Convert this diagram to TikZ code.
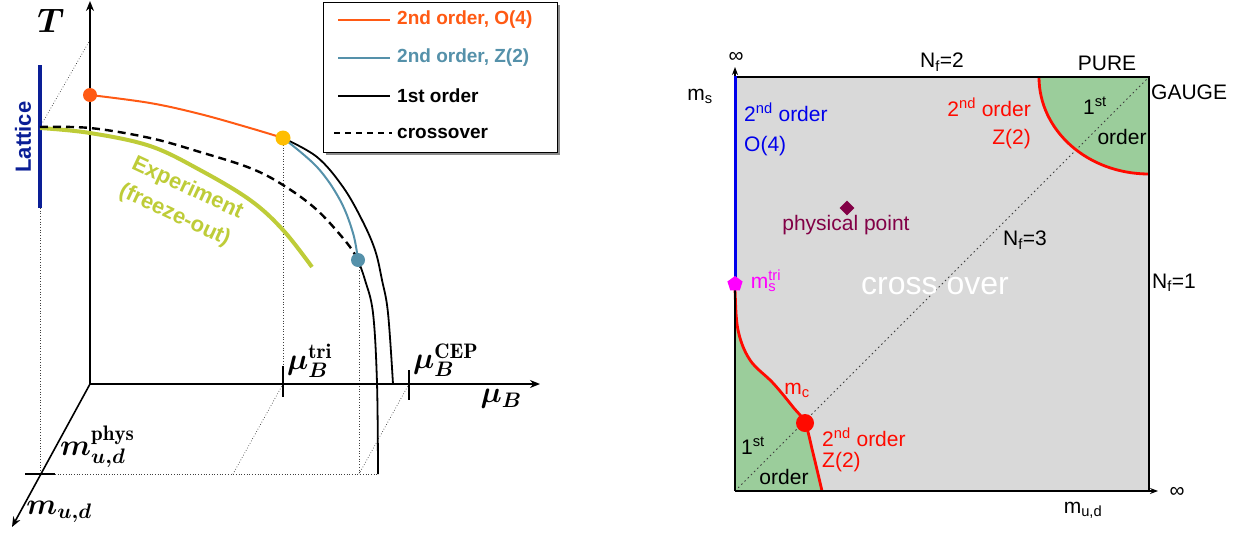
\RequirePackage{fix-cm}
\documentclass[tikz,border=0pt]{standalone}
\usepackage{fontspec}
\usepackage{amsmath,bm}
\newfontfamily\arial{Liberation Sans}
\usetikzlibrary{arrows.meta,shapes.geometric}
\definecolor{ordfour}{RGB}{255,90,20}
\definecolor{zedtwo}{RGB}{85,145,170}
\definecolor{expcol}{RGB}{190,204,56}
\definecolor{latblue}{RGB}{10,30,150}
\definecolor{yel}{RGB}{255,190,0}
\definecolor{boxgray}{RGB}{217,217,217}
\definecolor{grn}{RGB}{155,205,155}
\definecolor{rd}{RGB}{255,10,0}
\definecolor{bl}{RGB}{0,0,235}
\definecolor{maroon}{RGB}{130,0,70}
\definecolor{mag}{RGB}{255,0,255}
\tikzset{
  axis/.style={line width=1.6pt,-{Stealth[length=10pt,width=8pt]}},
  raxis/.style={line width=1.2pt,-{Stealth[length=8pt,width=6pt]}},
  dotline/.style={dotted,line width=0.7pt,black!75},
  tick/.style={line width=1.4pt},
  legtxt/.style={anchor=west,font=\arial\bfseries\fontsize{19}{19}\selectfont,inner sep=0pt},
  mathlbl/.style={font=\fontsize{30}{30}\selectfont,inner sep=0pt},
  rlbl/.style={font=\arial\fontsize{21}{21}\selectfont,inner sep=0pt},
  crit/.style={circle,inner sep=0pt,minimum size=14pt},
}
\begin{document}
\begin{tikzpicture}[x=1pt,y=-1pt]
\useasboundingbox (0,0) rectangle (1247,533);
% ================= LEFT PANEL =================
% dotted guide lines
\draw[dotline] (40,127) -- (90,40);
\draw[dotline] (40,208) -- (40,474);
\draw[dotline] (55,474) -- (378,474);
\draw[dotline] (283,145) -- (283,384);
\draw[dotline] (283,384) -- (233,474);
\draw[dotline] (359,267) -- (359,474);
\draw[dotline] (409,384) -- (359,474);
% axes
\coordinate (O) at (90,384);
\coordinate (Ttop) at (90,1);
\coordinate (mutip) at (540,384);
\coordinate (mudtip) at (12,527);
\draw[axis] (O) -- (Ttop);
\draw[axis] (O) -- (mutip);
\draw[axis] (O) -- (mudtip);
% ticks
\draw[tick] (25,474) -- (55,474);
\draw[tick] (283,366) -- (283,397);
\draw[tick] (409,370) -- (409,400);
% Lattice
\draw[latblue,line width=3.5pt] (40,65) -- (40,208);
\node[rotate=90,text=latblue,font=\arial\bfseries\fontsize{22}{22}\selectfont] (lat) at (23,137) {Lattice};
% experiment curve
\draw[expcol,line width=4pt] plot[smooth,tension=0.6] coordinates {(40,128) (90,133) (150,146) (200,170) (250,200) (283,230) (312,267)};
\node[rotate=-25,text=expcol,align=center,font=\arial\bfseries\fontsize{22}{30}\selectfont,inner sep=0pt] (exp) at (181,202) {Experiment\\(freeze-out)};
% crossover dashed
\draw[line width=2.4pt,dash pattern=on 8pt off 5pt] plot[smooth,tension=0.6] coordinates {(40,127) (90,128) (150,138) (200,152) (250,168) (283,185) (317,210) (347,243) (358,260)};
% first order lines
\draw[line width=1.8pt] plot[smooth,tension=0.6] coordinates {(283,138) (317,157) (343,187) (362,220) (375,250) (382,280) (388,313) (393,384)};
\draw[line width=1.8pt] plot[smooth,tension=0.6] coordinates {(358,260) (365,280) (373,313) (377,383) (378,474)};
% Z(2) line
\draw[zedtwo,line width=2pt] plot[smooth,tension=0.6] coordinates {(283,138) (317,167) (340,200) (353,233) (358,260)};
% O(4) line
\draw[ordfour,line width=2pt] plot[smooth,tension=0.6] coordinates {(90,95) (150,103) (200,114) (250,128) (283,138)};
% critical points
\node[crit,fill=ordfour] (pO4) at (90,95) {};
\node[crit,fill=yel,minimum size=15pt] (ptri) at (283,138) {};
\node[crit,fill=zedtwo] (pcep) at (358,260) {};
% labels
\node[font=\fontsize{34}{34}\selectfont,inner sep=0pt] (Tl) at (51,21) {$\bm{T}$};
\node[mathlbl] (mudl) at (59,512) {$\bm{m_{u,d}}$};
\node[mathlbl,anchor=west] (mphys) at (60,447) {$\bm{m}^{\mathbf{phys}}_{\bm{u,d}}$};
\node[mathlbl,anchor=west] (mutri) at (287,361) {$\bm{\mu}^{\mathbf{tri}}_{\bm{B}}$};
\node[mathlbl,anchor=west] (mucep) at (413,360) {$\bm{\mu}^{\mathbf{CEP}}_{\bm{B}}$};
\node[mathlbl] (mubl) at (501,399) {$\bm{\mu_B}$};
% legend
\fill[black!45] (326,5) rectangle (560,155);
\draw[fill=white,line width=1pt] (323,2) rectangle (557,152);
\draw[ordfour,line width=2pt] (338,20) -- (390,20);
\node[legtxt,text=ordfour] (l1) at (397,20) {2nd order, O(4)};
\draw[zedtwo,line width=2pt] (338,58) -- (390,58);
\node[legtxt,text=zedtwo] (l2) at (397,58) {2nd order, Z(2)};
\draw[line width=1.6pt] (338,96) -- (390,96);
\node[legtxt] (l3) at (397,96) {1st order};
\draw[line width=2.2pt,dash pattern=on 6pt off 5pt] (334,133) -- (392,133);
\node[legtxt] (l4) at (397,133) {crossover};
% ================= RIGHT PANEL =================
\fill[boxgray] (735,77) rectangle (1149,491);
% green regions
\fill[grn] (1039,77) .. controls (1039,131) and (1088,174) .. (1149,174) -- (1149,77) -- cycle;
\fill[grn] plot[smooth,tension=0.6] coordinates {(735,283) (735,290) (738,330) (750,360) (773,383) (793,407) (805,423) (813,453) (822,491)} -- (735,491) -- cycle;
% diagonal
\draw[dash pattern=on 1.5pt off 3pt,line width=1pt,black!75] (735,491) -- (1149,77);
% red lines
\draw[rd,line width=2.8pt] (1039,77) .. controls (1039,131) and (1088,174) .. (1149,174);
\draw[rd,line width=2.8pt] plot[smooth,tension=0.6] coordinates {(735,283) (735,290) (738,330) (750,360) (773,383) (793,407) (805,423) (813,453) (822,491)};
% frame and axes
\draw[line width=1.2pt] (735,77) -- (1149,77) -- (1149,491);
\coordinate (RO) at (735,491);
\coordinate (msTip) at (735,67);
\coordinate (mudTipR) at (1158,491);
\draw[raxis] (RO) -- (msTip);
\draw[raxis] (RO) -- (mudTipR);
\draw[bl,line width=3pt] (735,283) -- (735,76);
% points
\node[regular polygon,regular polygon sides=5,fill=mag,inner sep=0pt,minimum size=16pt] (mstri) at (735,284) {};
\node[diamond,fill=maroon,inner sep=0pt,minimum size=15pt] (phys) at (847,208) {};
\node[circle,fill=rd,inner sep=0pt,minimum size=18pt] (mc) at (805,423) {};
% labels
\node[rlbl] (inf1) at (736,57) {∞};
\node[rlbl] (inf2) at (1177,492) {∞};
\node[rlbl] (msl) at (700,96) {m\textsubscript{s}};
\node[rlbl] (nf2) at (942,62) {N\textsubscript{f}=2};
\node[rlbl] (pure) at (1107,63) {PURE};
\node[rlbl,anchor=west] (gauge) at (1151,92) {GAUGE};
\node[rlbl,anchor=west] (nf1) at (1152,283) {N\textsubscript{f}=1};
\node[rlbl] (nf3) at (1025,240) {N\textsubscript{f}=3};
\node[rlbl] (mudr) at (1083,510) {m\textsubscript{u,d}};
\node[rlbl,text=bl,align=left,anchor=north west,font=\arial\fontsize{21}{30}\selectfont] (o4) at (744,103) {2\textsuperscript{nd} order\\O(4)};
\node[rlbl,text=rd,align=right,anchor=north east,font=\arial\fontsize{21}{28}\selectfont] (z2a) at (1031,98) {2\textsuperscript{nd} order\\Z(2)};
\node[rlbl] (st1) at (1095,106) {1\textsuperscript{st}};
\node[rlbl] (ord1) at (1122,137) {order};
\node[rlbl,text=maroon] (physl) at (846,225) {physical point};
\node[rlbl,text=mag] (mstril) at (766,281) {m\rlap{\textsubscript{s}}\textsuperscript{tri}};
\node[font=\arial\fontsize{32}{32}\selectfont,text=white,inner sep=0pt] (co) at (935,286) {cross over};
\node[rlbl,text=rd] (mcl) at (797,390) {m\textsubscript{c}};
\node[rlbl,text=rd,align=left,anchor=north west,font=\arial\fontsize{21}{21}\selectfont] (z2b) at (822,428) {2\textsuperscript{nd} order\\Z(2)};
\node[rlbl] (st2) at (753,446) {1\textsuperscript{st}};
\node[rlbl] (ord2) at (784,477) {order};
\end{tikzpicture}
\end{document}
